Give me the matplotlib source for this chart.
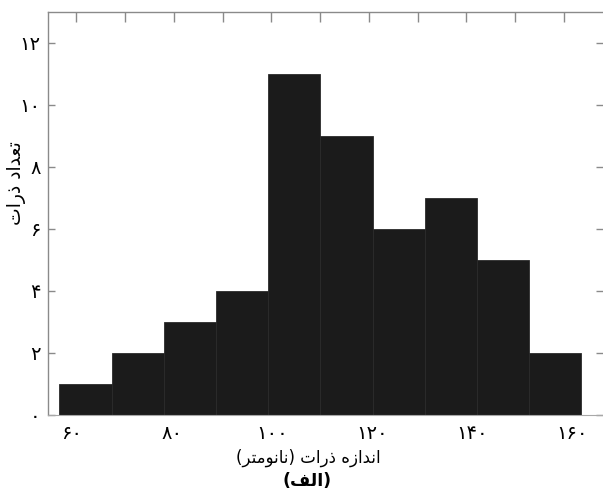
import matplotlib
matplotlib.use("Agg")
import matplotlib.pyplot as plt
from matplotlib.ticker import FixedLocator

# ---- data ----
counts = [1, 2, 3, 4, 11, 9, 6, 7, 5, 2]
bin_start = 57.5
bin_width = 10.44
x_tick_values = [60, 80, 100, 120, 140, 160]
x_tick_labels = ["۶۰", "۸۰", "۱۰۰", "۱۲۰", "۱۴۰", "۱۶۰"]
y_tick_values = [0, 2, 4, 6, 8, 10, 12]
y_tick_labels = ["۰", "۲", "۴", "۶", "۸", "۱۰", "۱۲"]
top_tick_values = [60.9, 70.65, 80.4, 90.15, 99.9, 109.65, 119.4, 129.15, 138.9, 148.65, 158.4]

# Persian labels (visual order, presentation forms)
xlabel_logical = "اندازه ذرات (نانومتر)"
xlabel_visual = "(\uFEAE\uFE98\uFEE3\uFEEE\uFEE7\uFE8E\uFEE7) \uFE95\uFE8D\uFEAD\uFEAB \uFEE9\uFEAF\uFE8D\uFEAA\uFEE7\uFE8D"
ylabel_visual = "\uFE95\uFE8D\uFEAD\uFEAB \uFEA9\uFE8D\uFEAA\uFECC\uFE97"
caption_visual = "(\uFED2\uFEDF\uFE8D)"

W, H = 603, 494
fig = plt.figure(figsize=(W / 100, H / 100), dpi=100)
ax = fig.add_axes([47.7 / W, 1 - 414.5 / H, (603 - 47.7) / W, (414.5 - 11.7) / H])

edges = [bin_start + bin_width * i for i in range(len(counts) + 1)]
lefts = edges[:-1]
ax.bar(lefts, counts, width=bin_width, align="edge",
       color="#1b1b1b", edgecolor="#2a2a2a", linewidth=0.6, zorder=2)

ax.set_xlim(55.14, 166.2)
ax.set_ylim(0, 13)

spine_col = "#8a8a8a"
for s in ["left", "top"]:
    ax.spines[s].set_color(spine_col)
    ax.spines[s].set_linewidth(1.0)
ax.spines["bottom"].set_color("#a8a8a8")
ax.spines["right"].set_visible(False)

ax.set_xticks(x_tick_values)
ax.set_xticklabels(x_tick_labels)
ax.xaxis.set_minor_locator(FixedLocator(top_tick_values))
ax.tick_params(axis="x", which="major", bottom=True, top=False, length=0, pad=7,
               labelsize=14)
ax.tick_params(axis="x", which="minor", bottom=False, top=True, direction="in",
               length=7, width=1, color=spine_col)

ax.set_yticks(y_tick_values)
ax.set_yticklabels(y_tick_labels)
ax.tick_params(axis="y", which="major", left=True, right=True, direction="in",
               length=5, width=1, color=spine_col, pad=5, labelsize=14)

for lab in ax.get_xticklabels() + ax.get_yticklabels():
    lab.set_family("DejaVu Sans")

fig.text(308 / W, 1 - 458 / H, xlabel_visual, ha="center", va="center",
         fontsize=12, family="DejaVu Sans")
fig.text(17 / W, 1 - 183 / H, ylabel_visual, ha="center", va="center",
         rotation=90, fontsize=13.5, family="DejaVu Sans")
fig.text(307 / W, 1 - 481 / H, caption_visual, ha="center", va="center",
         fontsize=12.5, fontweight="bold", family="DejaVu Sans")

fig.savefig("out.png", dpi=100)
